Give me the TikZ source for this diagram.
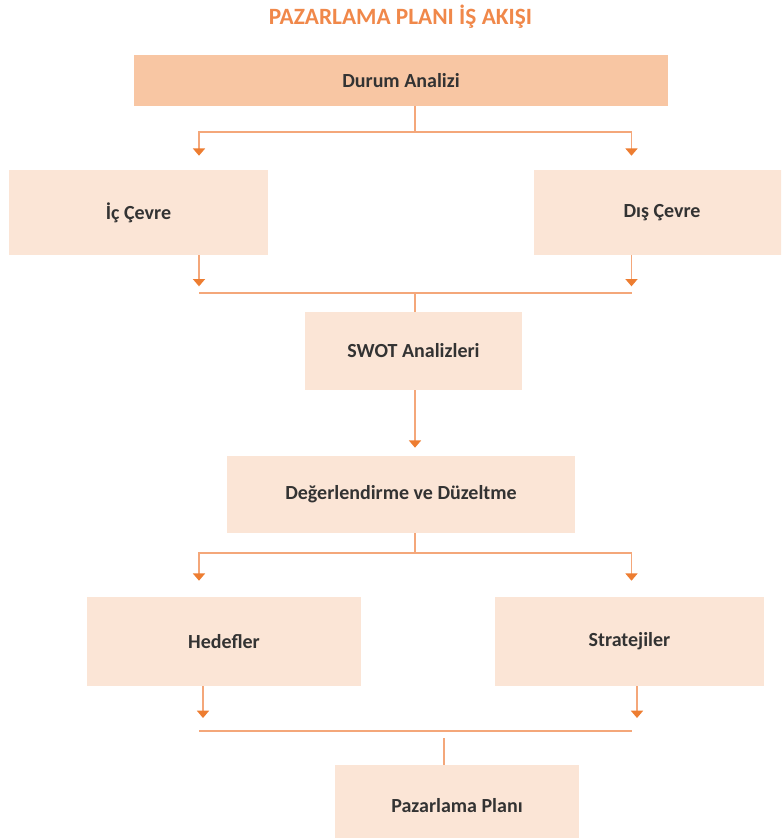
\documentclass[tikz,border=0pt]{standalone}
\usepackage{fontspec}
\setmainfont{Carlito}
\usetikzlibrary{arrows.meta, positioning, calc}

\definecolor{boxlight}{HTML}{FBE5D6}
\definecolor{boxhead}{HTML}{F8C6A3}
\definecolor{lineor}{HTML}{F4A77A}
\definecolor{tipor}{HTML}{ED7D31}
\definecolor{titleor}{HTML}{F0884A}
\definecolor{txtgray}{HTML}{333333}

\begin{document}
\begin{tikzpicture}[
    x=0.75pt, y=-0.75pt,
    fbox/.style={
        rectangle, fill=boxlight, draw=none,
        minimum height=58.5pt,
        font=\bfseries\fontsize{15}{18}\selectfont, text=txtgray,
        align=center,
    },
    hbox/.style={fbox, fill=boxhead},
    ln/.style={line width=1.3pt, lineor},
    arr/.style={ln, -{Triangle[width=9pt, length=5.5pt, color=tipor]}},
    titlelabel/.style={font=\bfseries\fontsize{17.5}{21}\selectfont, text=titleor},
]
\useasboundingbox (0,0) rectangle (781,838);
\clip (0,0) rectangle (781,838);

% === TITLE ===
\node[titlelabel] (title) at (400.5,17) {PAZARLAMA PLANI İŞ AKIŞI};

% === BOXES ===
\node[hbox, minimum width=400.5pt, minimum height=38.25pt] (durum) at (401,80.5) {Durum Analizi};
\node[fbox, minimum width=194.25pt, minimum height=63.75pt] (ic) at (138.5,212.5) {İç Çevre};
\node[fbox, minimum width=192pt, minimum height=63.75pt] (dis) at (662,212.5) {Dış Çevre};
\node[fbox, minimum width=162.75pt] (swot) at (413.5,351) {SWOT Analizleri};
\node[fbox, minimum width=261pt, minimum height=57.75pt] (deg) at (401,494.5) {Değerlendirme ve Düzeltme};
\node[fbox, minimum width=205.5pt, minimum height=66.75pt] (hed) at (224,641.5) {Hedefler};
\node[fbox, minimum width=201.75pt, minimum height=66.75pt] (str) at (629.5,641.5) {Stratejiler};
\node[fbox, minimum width=183pt, minimum height=61.5pt] (paz) at (457,806) {Pazarlama Planı};

% columns and rows of the connectors
\coordinate (lx) at (199,0);
\coordinate (rx) at (631.5,0);
\coordinate (mx) at (415,0);
\coordinate (lx5) at (203,0);
\coordinate (rx5) at (637,0);
\coordinate (px) at (444,0);
\coordinate (r1) at (0,132);
\coordinate (r2) at (0,293);
\coordinate (r4) at (0,553);
\coordinate (r5) at (0,731);

% Arrows: Durum Analizi -> İç / Dış Çevre
\draw[ln] (durum.south -| mx) -- (mx |- r1);
\draw[arr, shorten >=10.5pt] (mx |- r1) -| (ic.north -| lx);
\draw[arr, shorten >=10.5pt] (mx |- r1) -| (dis.north -| rx);

% İç / Dış Çevre -> SWOT
\draw[arr, shorten >=5pt] (ic.south -| lx) -- (lx |- r2);
\draw[arr, shorten >=5pt] (dis.south -| rx) -- (rx |- r2);
\draw[ln] (lx |- r2) -- (rx |- r2);
\draw[ln] (mx |- r2) -- (mx |- swot.north);

% SWOT -> Değerlendirme
\draw[arr, shorten >=6pt] (swot.south -| mx) -- (mx |- deg.north);

% Değerlendirme -> Hedefler / Stratejiler
\draw[ln] (deg.south -| mx) -- (mx |- r4);
\draw[arr, shorten >=12pt] (mx |- r4) -| (hed.north -| lx);
\draw[arr, shorten >=12pt] (mx |- r4) -| (str.north -| rx);

% Hedefler / Stratejiler -> Pazarlama Planı
\draw[arr, shorten >=9.75pt] (hed.south -| lx5) -- (lx5 |- r5);
\draw[arr, shorten >=9.75pt] (str.south -| rx5) -- (rx5 |- r5);
\draw[ln] (lx |- r5) -- (rx |- r5);
\draw[ln, shorten <=5.25pt] (px |- r5) -- (px |- paz.north);

\end{tikzpicture}
\end{document}
